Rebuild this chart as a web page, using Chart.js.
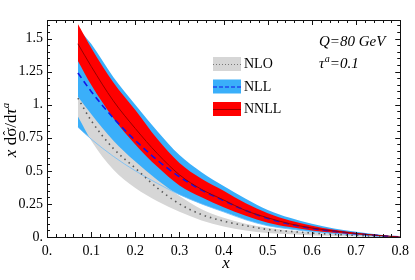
<!DOCTYPE html>
<html>
<head>
<meta charset="utf-8">
<script src="https://cdn.jsdelivr.net/npm/chart.js@4.4.1/dist/chart.umd.min.js"></script>
<style>
  html, body { margin: 0; padding: 0; background: #fff; }
</style>
</head>
<body>
<canvas id="chart" width="415" height="280"></canvas>
<script>
// x grid of the curves
const xs = [0.07, 0.1, 0.15, 0.2, 0.25, 0.3, 0.35, 0.4, 0.45, 0.5, 0.55, 0.6, 0.65, 0.7, 0.75, 0.8];

// NNLL (red band + central line)
const nnllMid = [1.46, 1.29, 1.03, 0.82, 0.63, 0.47, 0.36, 0.28, 0.20, 0.145, 0.10, 0.068, 0.045, 0.026, 0.012, 0.0];
const nnllHi  = [1.61, 1.43, 1.17, 0.96, 0.74, 0.56, 0.44, 0.35, 0.255, 0.18, 0.125, 0.085, 0.055, 0.033, 0.015, 0.0];
const nnllLo  = [1.33, 1.15, 0.90, 0.70, 0.53, 0.39, 0.30, 0.225, 0.16, 0.108, 0.075, 0.05, 0.033, 0.019, 0.008, 0.0];

// NLL (blue band + dashed line)
const nllMid = [1.24, 1.10, 0.90, 0.73, 0.58, 0.455, 0.355, 0.275, 0.20, 0.14, 0.097, 0.065, 0.043, 0.025, 0.011, 0.0];
const nllHi  = [1.58, 1.46, 1.21, 1.0, 0.80, 0.62, 0.49, 0.385, 0.29, 0.205, 0.145, 0.10, 0.065, 0.04, 0.018, 0.0];
const nllLo  = [0.83, 0.74, 0.61, 0.50, 0.405, 0.32, 0.25, 0.19, 0.13, 0.085, 0.06, 0.04, 0.025, 0.015, 0.006, 0.0];

// NLO (grey band + dotted line)
const nloMid = [1.05, 0.88, 0.67, 0.52, 0.37, 0.25, 0.17, 0.12, 0.085, 0.057, 0.042, 0.03, 0.02, 0.012, 0.005, 0.0];
const nloHi  = [1.06, 0.93, 0.73, 0.57, 0.43, 0.31, 0.21, 0.145, 0.10, 0.07, 0.05, 0.035, 0.022, 0.014, 0.006, 0.0];
const nloLo  = [0.91, 0.73, 0.51, 0.37, 0.27, 0.19, 0.125, 0.08, 0.05, 0.03, 0.02, 0.012, 0.007, 0.004, 0.001, 0.0];

const xTicks = [0, 0.1, 0.2, 0.3, 0.4, 0.5, 0.6, 0.7, 0.8];
const yTicks = [0, 0.25, 0.5, 0.75, 1, 1.25, 1.5];
const legendLabels = ["NLO", "NLL", "NNLL"];

const RED = "rgb(255,0,0)";
const BLUE = "rgb(58,175,250)";
const GREY = "rgb(214,214,214)";
const SERIF = "'Liberation Serif', 'Times New Roman', serif";

const pts = arr => arr.map((v, i) => ({ x: xs[i], y: v }));

function band(data, color, fill) {
    return { data: pts(data), borderWidth: 0, pointRadius: 0, backgroundColor: color,
             borderColor: color, fill: fill, cubicInterpolationMode: "monotone" };
}
function curve(data, color, width, dash) {
    return { data: pts(data), borderWidth: width, borderColor: color, borderDash: dash || [],
             pointRadius: 0, fill: false, cubicInterpolationMode: "monotone" };
}

const fmt = v => {
    const r = parseFloat(v.toFixed(2));
    return Number.isInteger(r) ? r + "." : String(r);
};

// frame, inward ticks, legend, labels
const decorations = {
    id: "decorations",
    afterDraw(chart) {
        const { ctx, chartArea: a, scales: { x, y } } = chart;
        ctx.save();
        ctx.strokeStyle = "#111";
        ctx.lineWidth = 1;
        const seg = (x1, y1, x2, y2) => { ctx.beginPath(); ctx.moveTo(x1, y1); ctx.lineTo(x2, y2); ctx.stroke(); };

        for (let i = 0; i <= 40; i++) {
            const px = Math.round(x.getPixelForValue(i * 0.02)) + 0.5;
            const len = i % 5 === 0 ? 5 : 3;
            seg(px, a.bottom, px, a.bottom - len);
            seg(px, a.top, px, a.top + len);
        }
        for (let i = 0; i * 0.05 <= y.max; i++) {
            const py = Math.round(y.getPixelForValue(i * 0.05)) + 0.5;
            const len = i % 5 === 0 ? 5 : 3;
            seg(a.left, py, a.left + len, py);
            seg(a.right, py, a.right - len, py);
        }
        ctx.strokeRect(Math.round(a.left) + 0.5, Math.round(a.top) + 0.5,
                       Math.round(a.right - a.left), Math.round(a.bottom - a.top));

        // legend
        const sw = [
            { fill: GREY, line: "rgb(120,120,120)", dash: [1, 2], w: 1 },
            { fill: BLUE, line: "rgb(20,20,230)", dash: [4, 2], w: 1 },
            { fill: RED, line: "rgb(150,0,0)", dash: [], w: 1 }
        ];
        ctx.font = "14px " + SERIF;
        ctx.textBaseline = "middle";
        ctx.fillStyle = "#000";
        sw.forEach((s, i) => {
            const top = 57 + i * 22.5;
            ctx.fillStyle = s.fill;
            ctx.fillRect(213, top, 28, 14);
            ctx.strokeStyle = s.line;
            ctx.lineWidth = s.w;
            ctx.setLineDash(s.dash);
            seg(213, top + 7.5, 241, top + 7.5);
            ctx.setLineDash([]);
            ctx.fillStyle = "#000";
            ctx.fillText(legendLabels[i], 244, top + 7.5);
        });

        // annotations
        ctx.textBaseline = "alphabetic";
        ctx.font = "italic 15px " + SERIF;
        ctx.fillText("Q=80 GeV", 319, 46);
        ctx.fillText("\u03C4", 319, 68);
        let tx = 319 + ctx.measureText("\u03C4").width;
        ctx.font = "italic 10px " + SERIF;
        ctx.fillText("a", tx + 0.5, 62);
        tx += ctx.measureText("a").width + 0.5;
        ctx.font = "italic 15px " + SERIF;
        ctx.fillText("=0.1", tx, 68);

        // x title
        ctx.font = "italic 17px " + SERIF;
        ctx.textAlign = "center";
        ctx.fillText("x", 226, 268);

        // y title
        ctx.translate(16, 130);
        ctx.rotate(-Math.PI / 2);
        ctx.textAlign = "left";
        const parts = [
            ["x", "italic 17px", 0], [" d", "17px", 0], ["\u03C3", "17px", 0],
            ["/d", "17px", 0], ["\u03C4", "italic 17px", 0], ["a", "italic 11px", -7]
        ];
        let total = 0;
        parts.forEach(p => { ctx.font = p[1] + " " + SERIF; total += ctx.measureText(p[0]).width; });
        let cx = -total / 2;
        parts.forEach(p => {
            ctx.font = p[1] + " " + SERIF;
            ctx.fillText(p[0], cx, p[2]);
            if (p[0] === "\u03C3") {
                ctx.font = "13px " + SERIF;
                ctx.fillText("\u02C6", cx + 1.5, -4);
                ctx.font = p[1] + " " + SERIF;
            }
            cx += ctx.measureText(p[0]).width;
        });
        ctx.restore();
    }
};

new Chart(document.getElementById("chart"), {
    type: "line",
    data: {
        datasets: [
            curve(nnllMid, "rgb(150,0,0)", 1),
            curve(nllMid, "rgb(20,20,230)", 1.6, [6, 4]),
            curve(nloMid, "rgb(90,90,90)", 1.6, [1.5, 4]),
            curve(nllLo, "rgb(110,190,250)", 0.8),
            band(nnllHi, RED, "+1"),
            band(nnllLo, RED, false),
            band(nloHi, GREY, "+1"),
            band(nloLo, GREY, false),
            band(nllHi, BLUE, "+1"),
            band(nllLo, BLUE, false)
        ]
    },
    options: {
        responsive: false,
        animation: false,
        devicePixelRatio: 1,
        layout: { padding: { left: 0, right: 9, top: 20, bottom: 0 } },
        plugins: { legend: { display: false }, tooltip: { enabled: false } },
        scales: {
            x: {
                type: "linear", min: 0, max: 0.8,
                afterFit(scale) { scale.height = 43; },
                afterBuildTicks(scale) { scale.ticks = xTicks.map(v => ({ value: v })); },
                grid: { display: false, drawTicks: false },
                border: { display: false },
                ticks: { padding: 6, color: "#000", font: { family: SERIF, size: 14 }, callback: fmt, maxRotation: 0 }
            },
            y: {
                type: "linear", min: 0, max: 1.64,
                afterFit(scale) { scale.width = 47; },
                afterBuildTicks(scale) { scale.ticks = yTicks.map(v => ({ value: v })); },
                grid: { display: false, drawTicks: false },
                border: { display: false },
                ticks: { padding: 4, color: "#000", font: { family: SERIF, size: 14 }, callback: fmt }
            }
        }
    },
    plugins: [decorations]
});
</script>
</body>
</html>
